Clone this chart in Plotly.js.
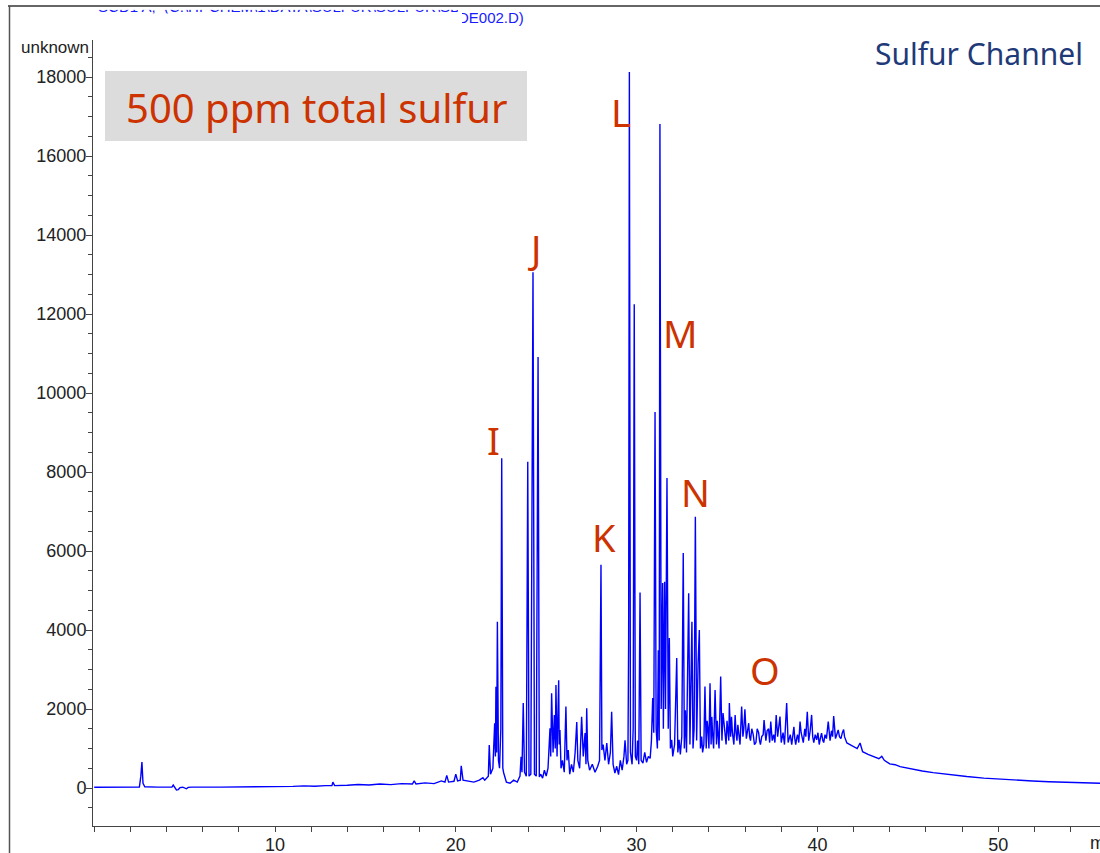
<!DOCTYPE html>
<html>
<head>
<meta charset="utf-8">
<script src="https://cdn.plot.ly/plotly-3.0.1.min.js"></script>
<style>
html,body{margin:0;padding:0;overflow:hidden;background:#fff;}
#chart{width:1100px;height:853px;}
</style>
</head>
<body>
<div id="chart"></div>
<script>
// ---- data: [retention time (min), signal] ----
const segEarly = [[0,20],[1,20],[2,20],[2.5,22],[2.58,300],[2.64,660],[2.7,120],[2.8,30],[3.5,22],[4.3,25],[4.37,75],[4.45,20],[4.55,-50],[4.65,-40],[4.75,10],[4.9,20],[5.1,-20],[5.2,15],[5.4,22],[7,22],[9,25],[10,30],[10.5,35],[11,40],[11.6,55],[12.2,45],[12.8,60],[13.15,60],[13.2,150],[13.3,60],[14,70],[14.6,90],[15.2,75],[15.8,100],[16.4,85],[17,110],[17.6,100],[17.7,180],[17.8,100],[18.3,130],[18.8,110],[19.2,180],[19.4,150],[19.5,320],[19.6,150],[19.9,170],[20.0,350],[20.1,180],[20.25,200],[20.3,560],[20.4,200],[20.7,170],[21.0,150],[21.3,200],[21.5,260],[21.6,200]];
const segIJ = [[21.8,300],[21.85,1090],[21.92,350],[22.05,500],[22.15,1640],[22.19,800],[22.22,2560],[22.26,900],[22.3,4210],[22.36,700],[22.42,500],[22.49,1500],[22.54,8350],[22.6,500],[22.65,380],[22.8,150],[23.0,120],[23.2,200],[23.4,150],[23.55,300],[23.61,790],[23.66,400],[23.73,2150],[23.8,400],[23.9,300],[23.98,8260],[24.05,300],[24.15,350],[24.27,13060],[24.35,350],[24.45,300],[24.55,10910],[24.62,280],[24.7,350],[24.8,250],[24.9,450],[25.0,300],[25.1,500],[25.21,1510],[25.25,800],[25.3,2400],[25.38,900],[25.45,1850],[25.5,1000],[25.54,2610],[25.6,800],[25.69,2730],[25.72,1100],[25.76,1470],[25.82,500],[25.9,700],[26.0,400],[26.09,2060],[26.15,700],[26.22,960],[26.3,350],[26.4,600],[26.5,400],[26.6,900],[26.69,1670],[26.75,700],[26.85,500],[26.96,1800],[27.05,800],[27.15,1390],[27.2,600],[27.24,2020],[27.3,700],[27.4,450],[27.55,600],[27.7,400],[27.85,550]];
const segKL = [[27.95,700],[28.03,5650],[28.08,960],[28.15,1100],[28.25,700],[28.35,1140],[28.45,600],[28.55,900],[28.62,1930],[28.7,600],[28.8,380],[28.9,550],[29.0,340],[29.1,700],[29.2,450],[29.3,800],[29.36,1210],[29.45,600],[29.52,700],[29.56,3830],[29.6,18130],[29.66,900],[29.75,600],[29.81,1500],[29.87,12250],[29.93,800],[30.0,700],[30.05,1200],[30.12,600],[30.19,4950],[30.25,700],[30.35,630],[30.45,900],[30.55,650],[30.65,800],[30.75,750],[30.82,1200]];
const segMN = [[30.89,2280],[30.95,1400],[31.02,9520],[31.08,1500],[31.15,1000],[31.2,3490],[31.25,1200],[31.29,16810],[31.36,2000],[31.44,5190],[31.48,1500],[31.55,5220],[31.6,2000],[31.68,7850],[31.75,1500],[31.81,3800],[31.87,1000],[31.94,1220],[32.0,800],[32.1,1100],[32.22,3290],[32.28,900],[32.35,1220],[32.42,850],[32.5,1300],[32.58,5950],[32.64,1000],[32.7,1970],[32.76,900],[32.88,4930],[32.95,1100],[33.06,4210],[33.12,1000],[33.18,1500],[33.25,6870],[33.32,1200],[33.4,3160],[33.47,4000],[33.53,1000],[33.6,1300],[33.65,900]];
const segHump = [[33.72,1100],[33.78,2570],[33.82,1200],[33.85,1000],[33.9,1700],[33.95,1500],[34.0,1000],[34.06,2650],[34.12,1100],[34.16,1800],[34.2,1400],[34.26,1000],[34.34,2480],[34.42,1100],[34.46,1700],[34.5,1300],[34.56,1000],[34.65,2820],[34.72,1200],[34.78,1900],[34.85,1600],[34.9,1300],[34.95,1100],[35.0,1700],[35.05,1500],[35.1,1200],[35.13,2150],[35.2,1300],[35.25,1800],[35.3,1400],[35.38,1100],[35.45,1850],[35.5,1400],[35.55,1200],[35.6,1600],[35.65,1400],[35.72,1100],[35.81,2060],[35.88,1300],[35.93,1500],[35.99,1990],[36.07,1250],[36.13,1500],[36.2,1640],[36.25,1300],[36.3,1200],[36.37,1500],[36.45,1350],[36.52,1100],[36.6,1150],[36.67,1500],[36.75,1400],[36.8,1200],[36.85,1100],[36.92,1300],[37.0,1350],[37.05,1720],[37.1,1300],[37.15,1200],[37.22,1450],[37.3,1500],[37.36,1150],[37.42,1680],[37.5,1200],[37.58,1350],[37.65,1150],[37.72,1850],[37.8,1300],[37.86,1500],[37.93,1810],[38.0,1150],[38.05,1300],[38.1,1400],[38.18,1100],[38.3,2150],[38.38,1150],[38.44,1300],[38.5,1350],[38.58,1100],[38.64,1400],[38.7,1550],[38.75,1250],[38.8,1100],[38.85,1250],[38.9,1350],[38.97,1150],[39.04,1680],[39.1,1400],[39.15,1300],[39.22,1150],[39.3,1500],[39.36,1300],[39.44,1930],[39.52,1200],[39.6,1450],[39.68,1850],[39.74,1300],[39.8,1150],[39.88,1350],[39.96,1220],[40.03,1400],[40.1,1100],[40.16,1250],[40.23,1390],[40.3,1200],[40.35,1150],[40.42,1350],[40.5,1250],[40.6,1680],[40.65,1350],[40.7,1200],[40.78,1450],[40.84,1300],[40.9,1820],[40.96,1400],[41.0,1250],[41.07,1350],[41.15,1470],[41.22,1300],[41.3,1250],[41.38,1400],[41.45,1480],[41.5,1300],[41.55,1220],[41.63,1140]];
const segTail = [[41.8,1100],[41.99,1050],[42.2,1000],[42.36,1140],[42.5,920],[42.8,850],[43.1,800],[43.4,740],[43.56,800],[43.7,700],[44.0,610],[44.3,590],[44.57,540],[45.2,480],[45.8,430],[46.4,390],[47.3,335],[48.26,290],[49.2,250],[50.1,220],[51.0,195],[51.9,177],[52.8,160],[53.8,144],[54.7,130],[55.7,118]];

const peakLabels = ["I","J","K","L","M","N","O"];
const labelTimes = [22.06, 24.33, 28.2, 29.14, 32.4, 33.23, 37.1];
const labelLevels = [8810, 13670, 6350, 17110, 11520, 7490, 2990];

const xTickVals = [10, 20, 30, 40, 50];
const yTickVals = [0, 2000, 4000, 6000, 8000, 10000, 12000, 14000, 16000, 18000];

const headerLine1 = "SCD1 A,  (C:\\HPCHEM\\1\\DATA\\SULFUR\\SULFUR\\SDE0";
const headerLine2 = "DE002.D)";
const boxText = "500 ppm total sulfur";
const channelText = "Sulfur Channel";
const yUnit = "unknown";
const xUnit = "min";

// ---- build ----
const chrom = [].concat(segEarly, segIJ, segKL, segMN, segHump, segTail);
const W = 1100, H = 853;
const px = v => v / W;
const py = v => (H - v) / H;
const red = "#cc3300";

const traces = [
  {x: chrom.map(p => p[0]), y: chrom.map(p => p[1]), type: "scatter", mode: "lines",
   line: {color: "#0000ff", width: 1.4}, hoverinfo: "skip", showlegend: false},
  {x: [0.035], y: [1.44], xaxis: "x2", yaxis: "y2", type: "scatter", mode: "text",
   text: [headerLine1], textposition: "middle right", cliponaxis: true,
   textfont: {family: "Liberation Sans, Arial, sans-serif", size: 15, color: "#1a1aff"},
   hoverinfo: "skip", showlegend: false},
  {x: [-0.041], y: [0.5], xaxis: "x3", yaxis: "y3", type: "scatter", mode: "text",
   text: [headerLine2], textposition: "middle right", cliponaxis: true,
   textfont: {family: "Liberation Sans, Arial, sans-serif", size: 15, color: "#1a1aff"},
   hoverinfo: "skip", showlegend: false}
];

const tickFont = {family: "Liberation Sans, Arial, sans-serif", size: 18, color: "#222"};
const unitFont = {family: "Liberation Sans, Arial, sans-serif", size: 17, color: "#222"};
const hidden = {visible: false, range: [0, 1], fixedrange: true, showgrid: false, zeroline: false};

const annotations = peakLabels.map((t, i) => ({
  text: t, x: labelTimes[i], y: labelLevels[i], xref: "x", yref: "y",
  xanchor: "center", yanchor: "middle", showarrow: false,
  font: {family: "Noto Sans, Open Sans, sans-serif", size: 38, color: red}
}));
annotations.push(
  {text: boxText, x: px(316.5), y: py(107), xref: "paper", yref: "paper", xanchor: "center", yanchor: "middle",
   showarrow: false, font: {family: "Noto Sans, Open Sans, sans-serif", size: 40, color: red}},
  {text: channelText, x: px(1085), y: py(53), xref: "paper", yref: "paper", xanchor: "right", yanchor: "middle",
   showarrow: false, font: {family: "Noto Sans, Open Sans, sans-serif", size: 30, color: "#1f3a78"}},
  {text: yUnit, x: px(91), y: py(47), xref: "paper", yref: "paper", xanchor: "right", yanchor: "middle",
   showarrow: false, font: unitFont},
  {text: xUnit, x: px(1088), y: py(843), xref: "paper", yref: "paper", xanchor: "left", yanchor: "middle",
   showarrow: false, font: tickFont}
);

const layout = {
  width: W, height: H,
  margin: {l: 0, r: 0, t: 0, b: 0},
  paper_bgcolor: "#fff", plot_bgcolor: "rgba(0,0,0,0)",
  showlegend: false,
  xaxis: {domain: [px(93), 1], range: [-0.066, 55.63], showgrid: false, zeroline: false,
          showline: true, linecolor: "#444", linewidth: 1,
          tickmode: "array", tickvals: xTickVals, ticks: "outside", ticklen: 5, tickcolor: "#444",
          ticklabelstandoff: -3,
          minor: {tickmode: "linear", tick0: 0, dtick: 2, ticks: "outside", ticklen: 5, tickcolor: "#444"},
          tickfont: tickFont, fixedrange: true, anchor: "y"},
  yaxis: {domain: [py(826), py(40)], range: [-962, 18937], showgrid: false, zeroline: false,
          showline: true, linecolor: "#444", linewidth: 1,
          tickmode: "array", tickvals: yTickVals, ticktext: yTickVals.map(String),
          ticks: "outside", ticklen: 6, tickcolor: "#444", ticklabelstandoff: -4,
          minor: {tickmode: "linear", tick0: 0, dtick: 500, ticks: "outside", ticklen: 4, tickcolor: "#444"},
          tickfont: tickFont, fixedrange: true, anchor: "x"},
  xaxis2: Object.assign({domain: [px(85), px(458)], anchor: "y2"}, hidden),
  yaxis2: Object.assign({domain: [py(13.5), py(9.5)], anchor: "x2"}, hidden),
  xaxis3: Object.assign({domain: [px(462), px(560)], anchor: "y3"}, hidden),
  yaxis3: Object.assign({domain: [py(30), py(8)], anchor: "x3"}, hidden),
  shapes: [
    {type: "rect", xref: "paper", yref: "paper", x0: px(105), x1: px(527), y0: py(141), y1: py(71),
     fillcolor: "#dcdcdc", line: {width: 0}, layer: "below"},
    {type: "rect", xref: "paper", yref: "paper", x0: px(60), x1: px(461), y0: py(9.8), y1: py(-10),
     fillcolor: "#ffffff", line: {width: 0}, layer: "above"},
    {type: "line", xref: "paper", yref: "paper", x0: px(8), x1: 1, y0: py(6), y1: py(6),
     line: {color: "#333", width: 1.5}, layer: "above"},
    {type: "line", xref: "paper", yref: "paper", x0: px(9.5), x1: px(9.5), y0: py(6), y1: 0,
     line: {color: "#555", width: 1.5}, layer: "above"}
  ],
  annotations: annotations
};

Plotly.newPlot("chart", traces, layout, {displayModeBar: false, staticPlot: true});
</script>
</body>
</html>
